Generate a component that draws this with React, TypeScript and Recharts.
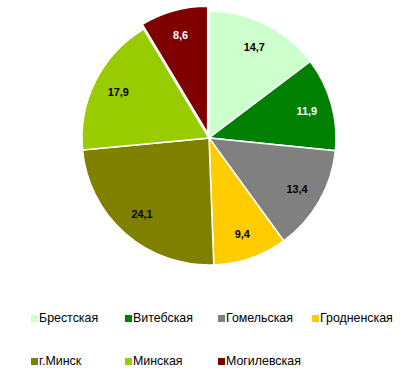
import React from 'react';
import { PieChart, Pie, Cell } from 'recharts';

const regions = ['Брестская', 'Витебская', 'Гомельская', 'Гродненская', 'г.Минск', 'Минская', 'Могилевская'];
const shares = [14.7, 11.9, 13.4, 9.4, 24.1, 17.9, 8.6];
const colors = ['#CCFFCC', '#008000', '#808080', '#FFCC00', '#808000', '#99CC00', '#800000'];
const labelColors = ['#000', '#fff', '#000', '#000', '#000', '#000', '#fff'];
const explodedIndex = 6;

const data = regions.map((name, i) => ({ name, value: shares[i] }));

const RADIAN = Math.PI / 180;

const renderLabel = (visibleIndex: number | null) => (props: any) => {
  const { cx, cy, midAngle, outerRadius, value, index } = props;
  if (visibleIndex !== null && index !== visibleIndex) return null;
  if (visibleIndex === null && index === explodedIndex) return null;
  const r = outerRadius * 0.8;
  const x = cx + r * Math.cos(-midAngle * RADIAN);
  const y = cy + r * Math.sin(-midAngle * RADIAN);
  return (
    <text
      x={x}
      y={y}
      fill={labelColors[index]}
      textAnchor="middle"
      dominantBaseline="central"
      fontFamily="Liberation Sans, Arial, sans-serif"
      fontWeight="bold"
      fontSize={10.9}
    >
      {Number(value).toFixed(1).replace('.', ',')}
    </text>
  );
};

const CX = 209;
const CY = 138;
const R = 127;
const EXPLODE = 5;

export default function App() {
  const before = shares.slice(0, explodedIndex).reduce((a, b) => a + b, 0);
  const total = shares.reduce((a, b) => a + b, 0);
  const mid = 90 - ((before + shares[explodedIndex] / 2) / total) * 360;
  const dx = EXPLODE * Math.cos(mid * RADIAN);
  const dy = -EXPLODE * Math.sin(mid * RADIAN);

  const rows = [regions.slice(0, 4), regions.slice(4)];
  const colLefts = [31, 125, 218, 312];
  const rowCenters = [318, 361];

  return (
    <div style={{ position: 'absolute', left: 0, top: 0, width: 413, height: 389, background: '#fff' }}>
      <PieChart width={413} height={389} margin={{ top: 0, right: 0, bottom: 0, left: 0 }}>
        <Pie
          data={data}
          dataKey="value"
          nameKey="name"
          cx={CX}
          cy={CY}
          outerRadius={R}
          startAngle={90}
          endAngle={-270}
          stroke="#fff"
          strokeWidth={1.5}
          isAnimationActive={false}
          labelLine={false}
          label={renderLabel(null)}
        >
          {data.map((d, i) => (
            <Cell
              key={d.name}
              fill={i === explodedIndex ? 'none' : colors[i]}
              stroke={i === explodedIndex ? 'none' : '#fff'}
            />
          ))}
        </Pie>
        <Pie
          data={data}
          dataKey="value"
          nameKey="name"
          cx={CX + dx}
          cy={CY + dy}
          outerRadius={R}
          startAngle={90}
          endAngle={-270}
          stroke="#fff"
          strokeWidth={1.5}
          isAnimationActive={false}
          labelLine={false}
          legendType="none"
          label={renderLabel(explodedIndex)}
        >
          {data.map((d, i) => (
            <Cell
              key={d.name}
              fill={i === explodedIndex ? colors[i] : 'none'}
              stroke={i === explodedIndex ? '#fff' : 'none'}
            />
          ))}
        </Pie>
      </PieChart>
      {rows.map((row, ri) =>
        row.map((name, ci) => {
          const idx = ri * 4 + ci;
          return (
            <div
              key={name}
              style={{
                position: 'absolute',
                left: colLefts[ci],
                top: rowCenters[ri] - 8,
                height: 16,
                display: 'flex',
                alignItems: 'center',
                fontFamily: 'Liberation Sans, Arial, sans-serif',
                fontSize: 12.4,
                color: '#000',
                whiteSpace: 'nowrap',
              }}
            >
              <span style={{ display: 'inline-block', width: 7, height: 7, background: colors[idx], marginRight: 1 }} />
              <span>{name}</span>
            </div>
          );
        })
      )}
    </div>
  );
}
